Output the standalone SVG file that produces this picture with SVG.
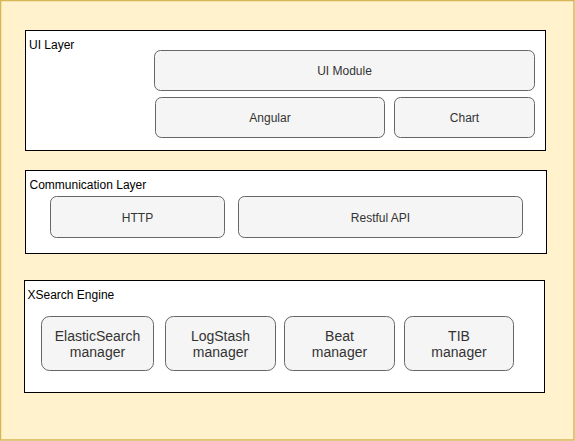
<svg xmlns="http://www.w3.org/2000/svg" width="575" height="441" viewBox="0 0 575 441">
<style>
.layer{fill:#ffffff;stroke:#000000;stroke-width:1}
.node{fill:#f5f5f5;stroke:#666666;stroke-width:1}
.lt{font-family:"Liberation Sans",Arial,sans-serif;font-size:12px;fill:#000000}
.nt{font-family:"Liberation Sans",Arial,sans-serif;font-size:12px;fill:#333333;text-anchor:middle}
.mt{font-family:"Liberation Sans",Arial,sans-serif;font-size:14px;fill:#333333;text-anchor:middle}
</style>
<rect x="0.5" y="0.5" width="573.5" height="439.5" fill="#fff2cc" stroke="#d6b656" stroke-width="1.5"/>
<g id="ui-layer">
<rect class="layer" x="25.5" y="30.5" width="520" height="120"/>
<text class="lt" x="29" y="49">UI Layer</text>
</g>
<g id="ui-module">
<rect class="node" x="154.5" y="50.5" width="380" height="40" rx="6"/>
<text class="nt" x="344.5" y="75">UI Module</text>
</g>
<g id="angular">
<rect class="node" x="155.5" y="97.5" width="229" height="40" rx="6"/>
<text class="nt" x="270" y="122">Angular</text>
</g>
<g id="chart">
<rect class="node" x="394.5" y="97.5" width="140" height="40" rx="6"/>
<text class="nt" x="464.5" y="122">Chart</text>
</g>
<g id="communication-layer">
<rect class="layer" x="25.5" y="170.5" width="521" height="83"/>
<text class="lt" x="29.5" y="189">Communication Layer</text>
</g>
<g id="http">
<rect class="node" x="50.5" y="196.5" width="174" height="41" rx="6"/>
<text class="nt" x="137.5" y="221.5">HTTP</text>
</g>
<g id="restful-api">
<rect class="node" x="238.5" y="196.5" width="284" height="41" rx="6"/>
<text class="nt" x="380.5" y="221.5">Restful API</text>
</g>
<g id="xsearch-engine">
<rect class="layer" x="24.5" y="280.5" width="520" height="112"/>
<text class="lt" x="27.5" y="299">XSearch Engine</text>
</g>
<g id="elasticsearch-manager">
<rect class="node" x="41.5" y="316.5" width="112" height="54" rx="8"/>
<text class="mt" x="97.5" y="341">ElasticSearch</text>
<text class="mt" x="97.5" y="357">manager</text>
</g>
<g id="logstash-manager">
<rect class="node" x="165.5" y="316.5" width="110" height="54" rx="8"/>
<text class="mt" x="220.5" y="341">LogStash</text>
<text class="mt" x="220.5" y="357">manager</text>
</g>
<g id="beat-manager">
<rect class="node" x="284.5" y="316.5" width="110" height="54" rx="8"/>
<text class="mt" x="339.5" y="341">Beat</text>
<text class="mt" x="339.5" y="357">manager</text>
</g>
<g id="tib-manager">
<rect class="node" x="404.5" y="316.5" width="109" height="54" rx="8"/>
<text class="mt" x="459" y="341">TIB</text>
<text class="mt" x="459" y="357">manager</text>
</g>
<g id="connectors"></g>
</svg>
